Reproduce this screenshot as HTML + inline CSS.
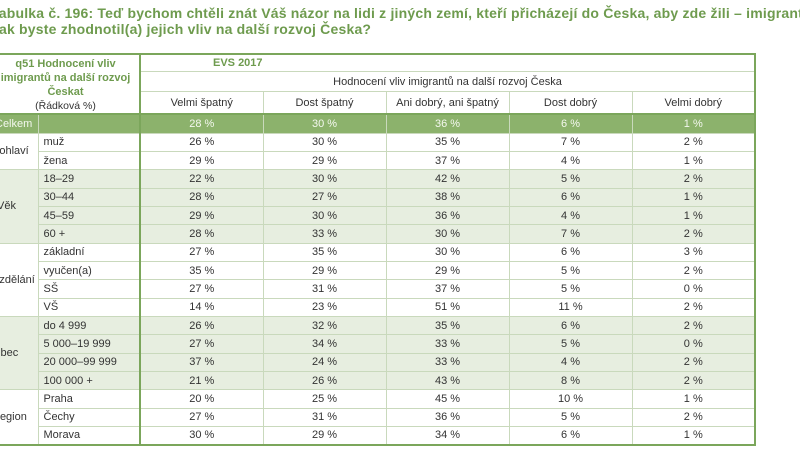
<!DOCTYPE html>
<html><head><meta charset="utf-8"><style>
html,body{margin:0;padding:0;width:800px;height:450px;overflow:hidden;background:#fff;font-family:"Liberation Sans",sans-serif;}
.t{position:absolute;left:-9px;font-weight:bold;font-size:14px;color:#6e9b4e;white-space:nowrap;letter-spacing:0.2px}
table{position:absolute;left:-10px;top:53px;border-collapse:collapse;table-layout:fixed;font-size:11px;color:#333;}
td{border:1px solid #c9d9bc;text-align:center;padding:0;overflow:hidden;white-space:nowrap;}
td.l{text-align:left;padding-left:5px}
td.c{text-align:left;padding-left:0}
.g td{background:#e7eee0}
.tot td{background:#8cb26c;color:#f4f8ef;}
.thick{border-left:2px solid #7ba65b}
</style></head><body>
<div class="t" style="top:5px">Tabulka č. 196: Teď bychom chtěli znát Váš názor na lidi z jiných zemí, kteří přicházejí do Česka, aby zde žili – imigrantů</div>
<div class="t" style="top:21px">Jak byste zhodnotil(a) jejich vliv na další rozvoj Česka?</div>
<table style="border:2px solid #7ba65b">
<colgroup><col style="width:47px"><col style="width:102px"><col style="width:123px"><col style="width:123px"><col style="width:123px"><col style="width:123px"><col style="width:123px"></colgroup>
<tr style="height:17px"><td colspan="2" rowspan="3" style="color:#6e9b4e;font-weight:bold;font-size:11px;line-height:14px;vertical-align:top;padding-top:2px;border-bottom:none">q51 Hodnocení vliv<br>imigrantů na další rozvoj<br>Českat<br><span style="font-weight:normal;color:#333;font-size:10.5px">(Řádková %)</span></td><td colspan="5" class="thick" style="text-align:left;padding-left:72px;color:#6e9b4e;font-weight:bold;font-size:11px">EVS 2017</td></tr>
<tr style="height:19px"><td colspan="5" class="thick">Hodnocení vliv imigrantů na další rozvoj Česka</td></tr>
<tr style="height:21px"><td class="thick">Velmi špatný</td><td>Dost špatný</td><td>Ani dobrý, ani špatný</td><td>Dost dobrý</td><td>Velmi dobrý</td></tr>
<tr class="tot" style="height:19px;border-top:2px solid #7ba65b"><td class="c" style="padding-left:3px">Celkem</td><td></td><td class="thick">28 %</td><td>30 %</td><td>36 %</td><td>6 %</td><td>1 %</td></tr>
<tr style="height:18.35px"><td class="c" rowspan="2">Pohlaví</td><td class="l">muž</td><td class="thick">26 %</td><td>30 %</td><td>35 %</td><td>7 %</td><td>2 %</td></tr>
<tr style="height:18.35px"><td class="l">žena</td><td class="thick">29 %</td><td>29 %</td><td>37 %</td><td>4 %</td><td>1 %</td></tr>
<tr class="g" style="height:18.35px"><td class="c" rowspan="4" style="padding-left:5px">Věk</td><td class="l">18–29</td><td class="thick">22 %</td><td>30 %</td><td>42 %</td><td>5 %</td><td>2 %</td></tr>
<tr class="g" style="height:18.35px"><td class="l">30–44</td><td class="thick">28 %</td><td>27 %</td><td>38 %</td><td>6 %</td><td>1 %</td></tr>
<tr class="g" style="height:18.35px"><td class="l">45–59</td><td class="thick">29 %</td><td>30 %</td><td>36 %</td><td>4 %</td><td>1 %</td></tr>
<tr class="g" style="height:18.35px"><td class="l">60 +</td><td class="thick">28 %</td><td>33 %</td><td>30 %</td><td>7 %</td><td>2 %</td></tr>
<tr style="height:18.35px"><td class="c" rowspan="4">Vzdělání</td><td class="l">základní</td><td class="thick">27 %</td><td>35 %</td><td>30 %</td><td>6 %</td><td>3 %</td></tr>
<tr style="height:18.35px"><td class="l">vyučen(a)</td><td class="thick">35 %</td><td>29 %</td><td>29 %</td><td>5 %</td><td>2 %</td></tr>
<tr style="height:18.35px"><td class="l">SŠ</td><td class="thick">27 %</td><td>31 %</td><td>37 %</td><td>5 %</td><td>0 %</td></tr>
<tr style="height:18.35px"><td class="l">VŠ</td><td class="thick">14 %</td><td>23 %</td><td>51 %</td><td>11 %</td><td>2 %</td></tr>
<tr class="g" style="height:18.35px"><td class="c" rowspan="4">Obec</td><td class="l">do 4 999</td><td class="thick">26 %</td><td>32 %</td><td>35 %</td><td>6 %</td><td>2 %</td></tr>
<tr class="g" style="height:18.35px"><td class="l">5 000–19 999</td><td class="thick">27 %</td><td>34 %</td><td>33 %</td><td>5 %</td><td>0 %</td></tr>
<tr class="g" style="height:18.35px"><td class="l">20 000–99 999</td><td class="thick">37 %</td><td>24 %</td><td>33 %</td><td>4 %</td><td>2 %</td></tr>
<tr class="g" style="height:18.35px"><td class="l">100 000 +</td><td class="thick">21 %</td><td>26 %</td><td>43 %</td><td>8 %</td><td>2 %</td></tr>
<tr style="height:18.35px"><td class="c" rowspan="3" style="padding-left:0">Region</td><td class="l">Praha</td><td class="thick">20 %</td><td>25 %</td><td>45 %</td><td>10 %</td><td>1 %</td></tr>
<tr style="height:18.35px"><td class="l">Čechy</td><td class="thick">27 %</td><td>31 %</td><td>36 %</td><td>5 %</td><td>2 %</td></tr>
<tr style="height:18.35px"><td class="l">Morava</td><td class="thick">30 %</td><td>29 %</td><td>34 %</td><td>6 %</td><td>1 %</td></tr>
</table>
</body></html>
